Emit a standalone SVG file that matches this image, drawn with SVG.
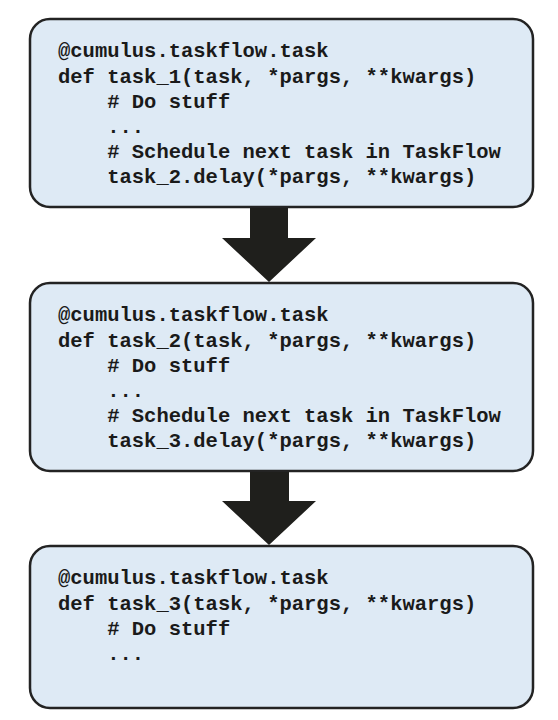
<svg xmlns="http://www.w3.org/2000/svg" width="558" height="720" viewBox="0 0 558 720">
<style>
.box{fill:#deeaf5;stroke:#232323;stroke-width:2.5}
.code{font-family:"Liberation Mono","Courier New",monospace;font-weight:bold;font-size:20.5px;fill:#1a1a1a;white-space:pre}
.arrow{fill:#1f1f1c}
</style>
<rect width="558" height="720" fill="#fff"/>
<g id="task1">
<rect class="box" x="30" y="19" width="503" height="188" rx="20"/>
<text class="code" x="58" y="57" xml:space="preserve">@cumulus.taskflow.task</text>
<text class="code" x="58" y="82.5" xml:space="preserve">def task_1(task, *pargs, **kwargs)</text>
<text class="code" x="58" y="108" xml:space="preserve">    # Do stuff</text>
<text class="code" x="58" y="133" xml:space="preserve">    ...</text>
<text class="code" x="58" y="158" xml:space="preserve">    # Schedule next task in TaskFlow</text>
<text class="code" x="58" y="183" xml:space="preserve">    task_2.delay(*pargs, **kwargs)</text>
</g>
<g id="task2">
<rect class="box" x="30" y="283" width="503" height="188" rx="20"/>
<text class="code" x="58" y="321" xml:space="preserve">@cumulus.taskflow.task</text>
<text class="code" x="58" y="346.5" xml:space="preserve">def task_2(task, *pargs, **kwargs)</text>
<text class="code" x="58" y="372" xml:space="preserve">    # Do stuff</text>
<text class="code" x="58" y="397" xml:space="preserve">    ...</text>
<text class="code" x="58" y="422" xml:space="preserve">    # Schedule next task in TaskFlow</text>
<text class="code" x="58" y="447" xml:space="preserve">    task_3.delay(*pargs, **kwargs)</text>
</g>
<g id="task3">
<rect class="box" x="30" y="546" width="503" height="162" rx="20"/>
<text class="code" x="58" y="584" xml:space="preserve">@cumulus.taskflow.task</text>
<text class="code" x="58" y="609.5" xml:space="preserve">def task_3(task, *pargs, **kwargs)</text>
<text class="code" x="58" y="635" xml:space="preserve">    # Do stuff</text>
<text class="code" x="58" y="660" xml:space="preserve">    ...</text>
</g>
<g id="connectors">
<polygon class="arrow" points="250,208 288,208 288,238 316,238 269,282 222,238 250,238"/>
<polygon class="arrow" points="250,472 289,472 289,501 316,501 269,545 222,501 250,501"/>
</g>
</svg>
